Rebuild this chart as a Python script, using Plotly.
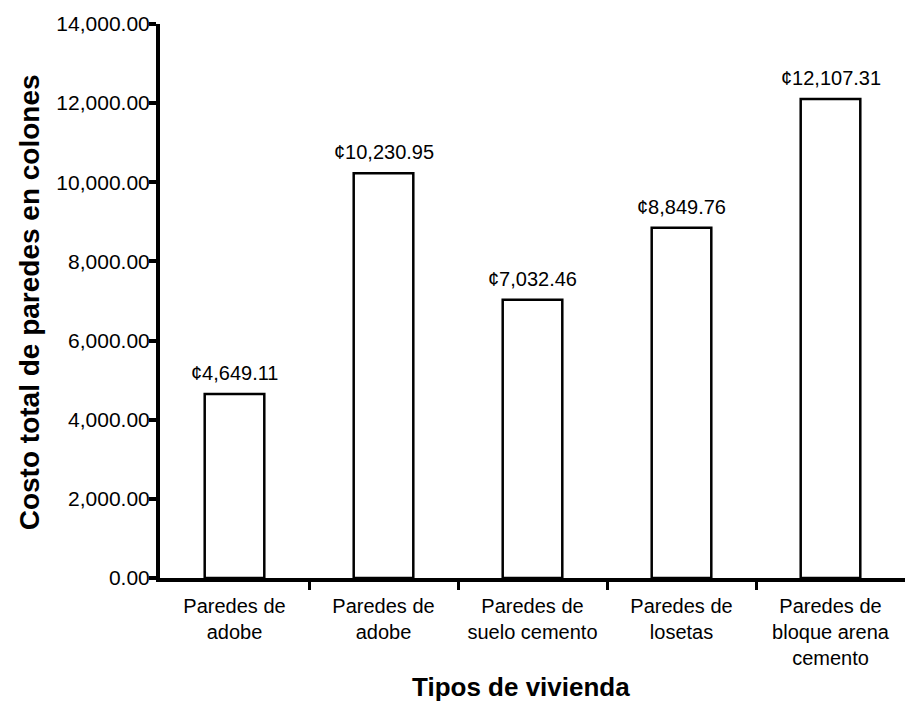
import plotly.graph_objects as go

# Housing wall types and total wall cost (colones)
categories = [
    "Paredes de<br>adobe",
    "Paredes de<br>adobe",
    "Paredes de<br>suelo cemento",
    "Paredes de<br>losetas",
    "Paredes de<br>bloque arena<br>cemento",
]
costs = [4649.11, 10230.95, 7032.46, 8849.76, 12107.31]
y_ticks = [0, 2000, 4000, 6000, 8000, 10000, 12000, 14000]

positions = list(range(len(categories)))
FONT = "Liberation Sans, Arial, sans-serif"

fig = go.Figure(
    go.Bar(
        x=positions,
        y=costs,
        width=0.4,
        marker=dict(color="white", line=dict(color="black", width=2.5)),
        cliponaxis=False,
    )
)

# value labels sitting above each bar
value_labels = [
    dict(
        x=pos, y=val, xref="x", yref="y",
        text=f"¢{val:,.2f}",
        showarrow=False,
        xanchor="center", yanchor="middle",
        yshift=21,
        font=dict(family=FONT, size=20, color="black"),
    )
    for pos, val in zip(positions, costs)
]

axis_titles = [
    dict(
        text="<b>Costo total de paredes en colones</b>",
        xref="paper", yref="paper",
        x=-0.175, y=0.497,
        xanchor="center", yanchor="middle",
        textangle=-90, showarrow=False,
        font=dict(family=FONT, size=28, color="black"),
    ),
    dict(
        text="<b>Tipos de vivienda</b>",
        xref="paper", yref="paper",
        x=0.485, y=-0.197,
        xanchor="center", yanchor="middle",
        showarrow=False,
        font=dict(family=FONT, size=26, color="black"),
    ),
]

fig.update_layout(
    width=910,
    height=711,
    margin=dict(l=160, r=5, t=24, b=133),
    paper_bgcolor="white",
    plot_bgcolor="white",
    showlegend=False,
    font=dict(family=FONT, size=20, color="black"),
    xaxis=dict(
        range=[-0.5, 4.5],
        tickmode="array",
        tickvals=positions,
        ticktext=categories,
        ticks="",
        showgrid=False,
        zeroline=False,
        showline=True,
        linecolor="black",
        linewidth=4,
        tickfont=dict(family=FONT, size=20, color="black"),
        ticklabelstandoff=7,
        minor=dict(
            tickmode="array",
            tickvals=[0.5, 1.5, 2.5, 3.5],
            ticks="outside",
            ticklen=8,
            tickwidth=3,
            tickcolor="black",
            showgrid=False,
        ),
    ),
    yaxis=dict(
        range=[0, 14000],
        tickmode="array",
        tickvals=y_ticks,
        tickformat=",.2f",
        ticks="outside",
        ticklen=7,
        tickwidth=4,
        tickcolor="black",
        showgrid=False,
        zeroline=False,
        showline=True,
        linecolor="black",
        linewidth=4,
        ticklabelstandoff=-5,
        tickfont=dict(family=FONT, size=21, color="black"),
    ),
    annotations=value_labels + axis_titles,
)

fig.write_html("out.html")
